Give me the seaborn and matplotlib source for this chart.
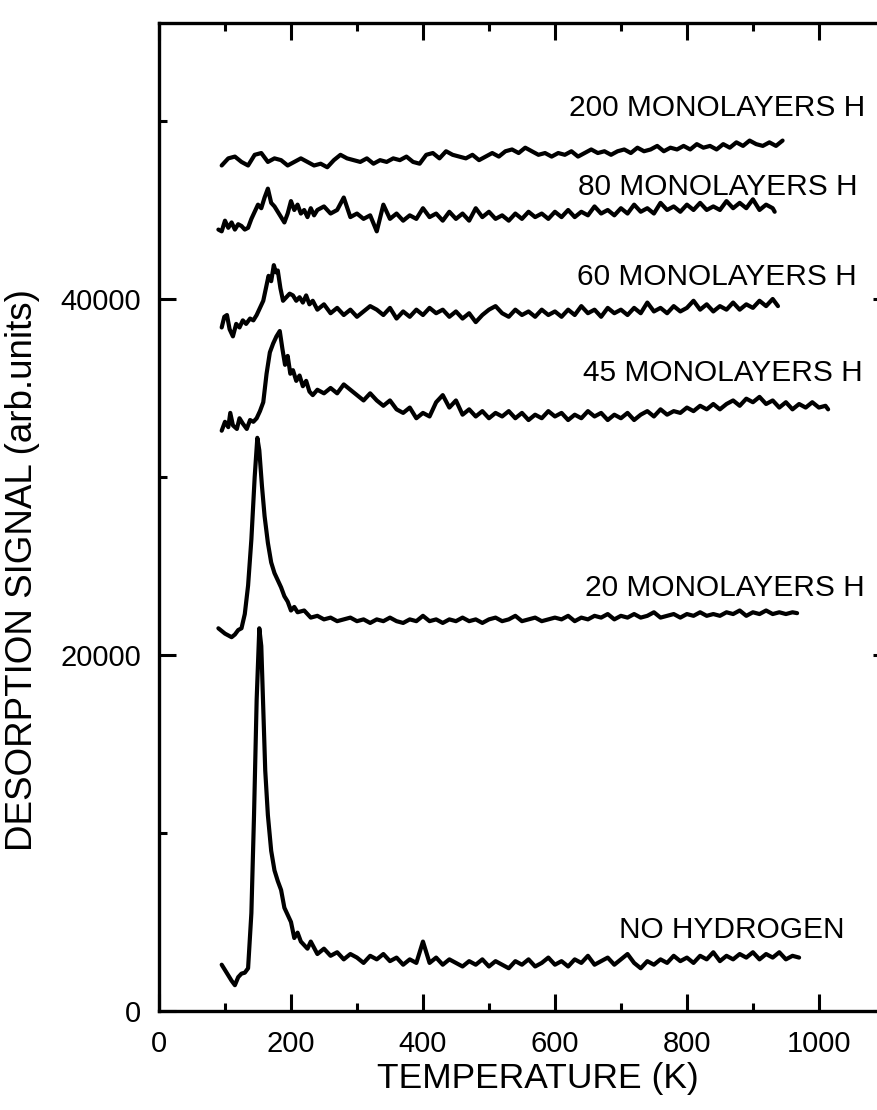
import numpy as np
import matplotlib
matplotlib.use("Agg")
import matplotlib.pyplot as plt
import seaborn as sns
from matplotlib.ticker import MultipleLocator

# ---------------- data ----------------
# NO HYDROGEN
t_nh = [95, 100, 105, 110, 115, 120, 125, 130, 135, 140, 144, 148, 152, 155, 158, 161, 165,
        170, 175, 180, 185, 190, 195, 200, 205, 210, 215, 220, 225, 230,
        240, 250, 260, 270, 280, 290, 300, 310, 320, 330, 340, 350, 360, 370, 380, 390,
        400, 410, 420, 430, 440, 450, 460, 470, 480, 490, 500, 510, 520, 530, 540, 550,
        560, 570, 580, 590, 600, 610, 620, 630, 640, 650, 660, 670, 680, 690, 700, 710,
        720, 730, 740, 750, 760, 770, 780, 790, 800, 810, 820, 830, 840, 850, 860, 870,
        880, 890, 900, 910, 920, 930, 940, 950, 960, 970]
s_nh = [2600, 2300, 2000, 1700, 1450, 1900, 2100, 2150, 2400, 5500, 11000, 17500, 21500, 20500, 17000, 13500, 11000,
        9000, 7900, 7300, 6800, 5800, 5400, 5000, 4100, 4400, 3900, 3700, 3500, 3900,
        3200, 3500, 3100, 3300, 2900, 3200, 3000, 2700, 3100, 2900, 3200, 2800, 3000, 2600, 2900, 2700,
        3900, 2700, 3000, 2600, 2900, 2700, 2500, 2800, 2600, 2900, 2500, 2800, 2600, 2400, 2800, 2600,
        2900, 2500, 2700, 3000, 2600, 2800, 2500, 2900, 2700, 3100, 2600, 2800, 3000, 2600, 2900, 3200,
        2700, 2400, 2800, 2600, 2900, 2700, 3100, 2800, 3000, 2700, 3100, 2900, 3300, 2800, 3100, 2900,
        3200, 3000, 3300, 2900, 3200, 3000, 3300, 2900, 3100, 3000]

# 20 MONOLAYERS H
t_20 = [90, 95, 100, 105, 110, 115, 120, 125, 130, 135, 140, 145, 149, 152, 156, 160, 165, 170, 175,
        180, 185, 190, 195, 200, 205, 210, 220, 230,
        240, 250, 260, 270, 280, 290, 300, 310, 320, 330, 340, 350, 360, 370, 380, 390,
        400, 410, 420, 430, 440, 450, 460, 470, 480, 490, 500, 510, 520, 530, 540, 550,
        560, 570, 580, 590, 600, 610, 620, 630, 640, 650, 660, 670, 680, 690, 700, 710,
        720, 730, 740, 750, 760, 770, 780, 790, 800, 810, 820, 830, 840, 850, 860, 870,
        880, 890, 900, 910, 920, 930, 940, 950, 960, 967]
s_20 = [21500, 21350, 21200, 21100, 21000, 21150, 21400, 21500, 22300, 23900, 26500, 30000, 32200, 31500, 29500, 27800, 26300, 25200, 24600,
        24200, 23800, 23300, 23000, 22500, 22700, 22400, 22500, 22100,
        22200, 22000, 22100, 21900, 22000, 22100, 21900, 22000, 21800, 22000, 21900, 22100, 21900, 21800, 22000, 21900,
        22200, 21900, 22000, 21800, 22000, 21900, 22100, 21900, 22000, 21800, 22000, 22100, 21900, 22000, 22200, 21900,
        22000, 22100, 21900, 22000, 22100, 22000, 22200, 21900, 22100, 22000, 22200, 22100, 22300, 22000, 22200, 22100,
        22300, 22100, 22200, 22400, 22100, 22200, 22300, 22100, 22300, 22200, 22400, 22200, 22300, 22200, 22400, 22300,
        22500, 22200, 22400, 22300, 22500, 22300, 22400, 22300, 22400, 22350]

# 45 MONOLAYERS H
t_45 = [95, 100, 105, 108, 112, 118, 122, 127, 133, 138, 143, 148, 153, 158, 163, 168, 173, 178, 183,
        187, 191, 195, 199, 203, 208, 213, 218, 223, 228, 233, 240,
        250, 260, 270, 280, 290, 300, 310, 320, 330, 340, 350, 360, 370, 380, 390,
        400, 410, 420, 430, 440, 450, 460, 470, 480, 490, 500, 510, 520, 530, 540, 550,
        560, 570, 580, 590, 600, 610, 620, 630, 640, 650, 660, 670, 680, 690, 700, 710,
        720, 730, 740, 750, 760, 770, 780, 790, 800, 810, 820, 830, 840, 850, 860, 870,
        880, 890, 900, 910, 920, 930, 940, 950, 960, 970, 980, 990, 1000, 1010, 1014]
s_45 = [32600, 33100, 32800, 33600, 32900, 32700, 33300, 33000, 32700, 33200, 33100, 33300, 33700, 34200, 35800, 37000, 37500, 37900, 38200,
        37200, 36300, 36800, 35800, 36000, 35400, 35700, 35100, 35400, 34800, 34600, 34900,
        34700, 35000, 34700, 35200, 34900, 34600, 34300, 34700, 34300, 34000, 34300, 33800, 33600, 33900, 33300,
        33600, 33400, 34200, 34600, 33900, 34300, 33500, 33800, 33400, 33700, 33300, 33600, 33400, 33700, 33300, 33600,
        33200, 33500, 33300, 33700, 33400, 33600, 33200, 33500, 33300, 33700, 33400, 33600, 33200, 33500, 33300, 33600,
        33200, 33500, 33700, 33400, 33800, 33500, 33700, 33600, 33900, 33700, 34000, 33800, 34100, 33800, 34100, 34300,
        34000, 34400, 34200, 34500, 34100, 34300, 33900, 34200, 33800, 34100, 33900, 34200, 33900, 34000, 33800]

# 60 MONOLAYERS H
t_60 = [95, 99, 103, 107, 112, 117, 122, 127, 132, 138, 143, 148, 153, 158, 162, 166, 170, 174, 177,
        180, 184, 188, 193, 198, 203, 208, 213, 218, 223, 228, 233, 240,
        250, 260, 270, 280, 290, 300, 310, 320, 330, 340, 350, 360, 370, 380, 390,
        400, 410, 420, 430, 440, 450, 460, 470, 480, 490, 500, 510, 520, 530, 540, 550,
        560, 570, 580, 590, 600, 610, 620, 630, 640, 650, 660, 670, 680, 690, 700, 710,
        720, 730, 740, 750, 760, 770, 780, 790, 800, 810, 820, 830, 840, 850, 860, 870,
        880, 890, 900, 910, 920, 930, 938]
s_60 = [38400, 39000, 39100, 38300, 37900, 38600, 38400, 38800, 38600, 38900, 38800, 39100, 39500, 39900, 40600, 41300, 41000, 41900, 41500,
        41600, 40600, 39900, 40100, 40300, 40200, 39900, 40100, 39800, 40200, 39700, 39900, 39400,
        39700, 39200, 39500, 39100, 39400, 39000, 39300, 39600, 39400, 39100, 39500, 38900, 39300, 39000, 39400,
        39100, 39500, 39200, 39400, 39000, 39300, 38900, 39200, 38700, 39100, 39400, 39600, 39200, 39000, 39400, 39100,
        39300, 39000, 39400, 39100, 39300, 39000, 39400, 39100, 39600, 39200, 39400, 39000, 39500, 39200, 39400, 39100,
        39500, 39200, 39800, 39300, 39500, 39200, 39600, 39300, 39500, 39900, 39400, 39700, 39300, 39600, 39400, 39800,
        39400, 39700, 39500, 39900, 39600, 40000, 39600]

# 80 MONOLAYERS H
t_80 = [90, 95, 100, 105, 110, 115, 120, 125, 130, 135, 140, 145, 150, 155, 160, 165, 170, 175, 180,
        185, 190, 195, 200, 205, 210, 215, 220, 225, 230, 235, 240,
        250, 260, 270, 280, 290, 300, 310, 320, 330, 340, 350, 360, 370, 380, 390,
        400, 410, 420, 430, 440, 450, 460, 470, 480, 490, 500, 510, 520, 530, 540, 550,
        560, 570, 580, 590, 600, 610, 620, 630, 640, 650, 660, 670, 680, 690, 700, 710,
        720, 730, 740, 750, 760, 770, 780, 790, 800, 810, 820, 830, 840, 850, 860, 870,
        880, 890, 900, 910, 920, 930, 933]
s_80 = [43900, 43800, 44400, 44000, 44300, 43900, 44200, 44100, 43900, 44000, 44500, 44900, 45300, 45100, 45700, 46200, 45400, 45200, 44900,
        44600, 44300, 44800, 45500, 45000, 45300, 44800, 45000, 44600, 45100, 44700, 45000,
        45200, 44800, 45000, 45700, 44600, 44800, 44500, 44700, 43800, 45300, 44500, 44800, 44400, 44700, 44500,
        45100, 44600, 44800, 44400, 44900, 44500, 44800, 44400, 45100, 44600, 44900, 44500, 44700, 44400, 44800, 44500,
        44900, 44600, 44800, 44500, 44900, 44600, 45000, 44600, 44900, 44700, 45200, 44800, 45000, 44700, 45100, 44800,
        45300, 44900, 45100, 44800, 45400, 45000, 45200, 44900, 45300, 45000, 45400, 45000, 45200, 45000, 45500, 45100,
        45400, 45100, 45600, 45000, 45300, 45100, 44900]

# 200 MONOLAYERS H
t_200 = [95, 105, 115, 125, 135, 145, 155, 165, 175, 185, 195, 205, 215, 225, 235, 245, 255, 265,
         275, 285, 295, 305, 315, 325, 335, 345, 355, 365, 375, 385, 395, 405, 415, 425, 435,
         445, 455, 465, 475, 485, 495, 505, 515, 525, 535, 545, 555, 565, 575, 585, 595, 605,
         615, 625, 635, 645, 655, 665, 675, 685, 695, 705, 715, 725, 735, 745, 755, 765, 775,
         785, 795, 805, 815, 825, 835, 845, 855, 865, 875, 885, 895, 905, 915, 925, 935, 945]
s_200 = [47500, 47900, 48000, 47700, 47500, 48100, 48200, 47700, 47900, 47800, 47500, 47700, 47900, 47700, 47500, 47600, 47400, 47800,
         48100, 47900, 47800, 47700, 47900, 47600, 47800, 47700, 47900, 47800, 48000, 47700, 47600, 48100, 48200, 47900, 48300,
         48100, 48000, 47900, 48100, 47800, 48000, 48200, 48000, 48300, 48400, 48200, 48500, 48300, 48100, 48200, 48000, 48200,
         48100, 48300, 48000, 48200, 48400, 48200, 48300, 48100, 48300, 48400, 48200, 48500, 48300, 48400, 48600, 48300, 48500,
         48400, 48600, 48400, 48700, 48500, 48600, 48400, 48700, 48500, 48800, 48600, 48900, 48700, 48600, 48800, 48600, 48900]

curve_x = [t_nh, t_20, t_45, t_60, t_80, t_200]
curve_y = [s_nh, s_20, s_45, s_60, s_80, s_200]

labels = ["NO HYDROGEN", "20 MONOLAYERS H", "45 MONOLAYERS H",
          "60 MONOLAYERS H", "80 MONOLAYERS H", "200 MONOLAYERS H"]
label_x = [1039, 1070, 1067, 1058, 1058, 1070]
label_y = [4550, 23760, 35840, 41240, 46290, 50730]

x_ticks = [0, 200, 400, 600, 800, 1000]
y_ticks = [0, 20000, 40000]

# ---------------- plot ----------------
sns.set_theme(style="ticks")
plt.rcParams['font.family'] = ['Liberation Sans', 'DejaVu Sans']

fig = plt.figure(figsize=(8.77, 11.10), dpi=100)
# right spine sits just beyond the right edge of the figure, as in the scan
ax = fig.add_axes([0.1813, 0.0892, 0.8187 + 0.0150, 0.890])

for xs, ys in zip(curve_x, curve_y):
    assert len(xs) == len(ys)
    sns.lineplot(x=xs, y=ys, ax=ax, color='black', linewidth=3.0,
                 sort=False, estimator=None)

for lab, lx, ly in zip(labels, label_x, label_y):
    ax.text(lx, ly, lab, ha='right', va='center', fontsize=21.5, color='black')

ax.set_xlim(0, 1108)
ax.set_ylim(0, 55500)
ax.set_xticks(x_ticks)
ax.set_yticks(y_ticks)
ax.set_xticklabels([str(v) for v in x_ticks])
ax.set_yticklabels([str(v) for v in y_ticks])
ax.xaxis.set_minor_locator(MultipleLocator(100))
ax.yaxis.set_minor_locator(MultipleLocator(10000))

ax.tick_params(which='both', direction='in', top=True, right=True, color='black',
               width=2.2)
ax.tick_params(which='major', length=12, labelsize=21, labelcolor='black')
ax.tick_params(which='minor', length=6)
ax.tick_params(axis='x', which='major', pad=14)
ax.tick_params(axis='y', which='major', pad=13)

for sp in ax.spines.values():
    sp.set_linewidth(2.4)
    sp.set_color('black')

ax.set_xlabel("TEMPERATURE (K)", fontsize=25.5, color='black')
ax.set_ylabel("DESORPTION SIGNAL (arb.units)", fontsize=26.5, color='black')
ax.xaxis.set_label_coords(0.518, -0.052)
ax.yaxis.set_label_coords(-0.163, 0.446)

fig.savefig("out.png", dpi=100)
